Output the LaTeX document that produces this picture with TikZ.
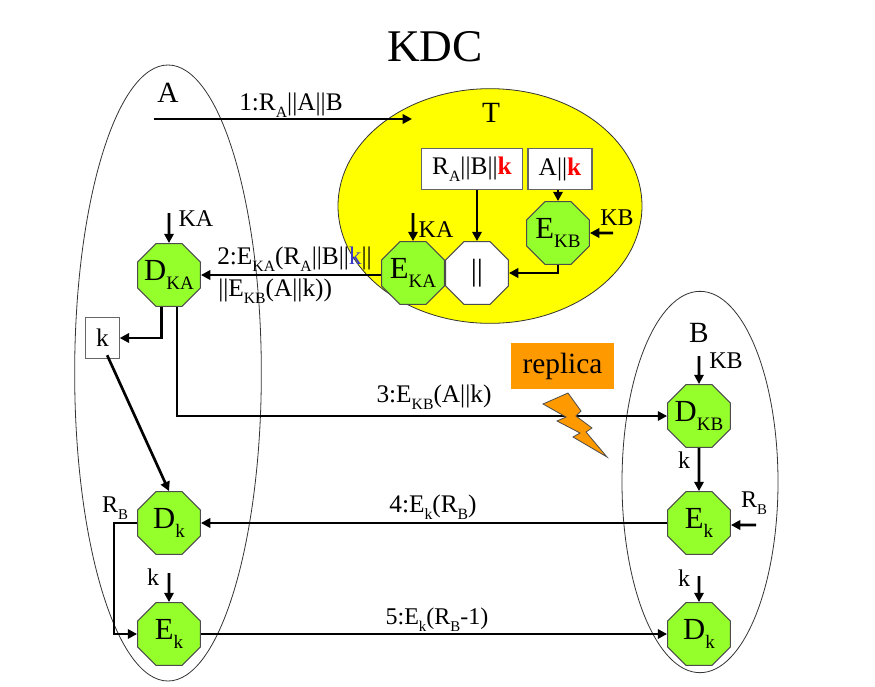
\documentclass[tikz,border=0pt]{standalone}
\usepackage{fontspec}
\setmainfont{Liberation Serif}
\definecolor{octgreen}{HTML}{95FF2B}
\definecolor{replorange}{HTML}{FF9900}
\definecolor{kblue}{HTML}{3A3AC8}
\definecolor{tyellow}{HTML}{FFFF00}
\definecolor{kred}{HTML}{FF0000}
\usetikzlibrary{arrows.meta, positioning, calc, shapes.geometric}
\newcommand{\low}[1]{\raisebox{-0.28em}{\scalebox{0.62}{#1}}}
\newcommand{\fsize}[1]{\fontsize{#1}{#1}\selectfont}
\tikzset{
  octa/.style={regular polygon, regular polygon sides=8, minimum size=51pt, inner sep=-8pt,
    draw=black!70, line width=0.75pt, fill=octgreen, font=\fsize{23}},
  party/.style={ellipse, draw=black!80, line width=0.6pt, inner sep=0pt},
  msgbox/.style={draw=black!60, line width=0.8pt, fill=white, inner sep=0pt, font=\fsize{19}},
  lbl/.style={font=\fsize{18}, inner sep=0pt},
  msg/.style={font=\fsize{19}, inner sep=0pt},
  bigl/.style={font=\fsize{22}, inner sep=0pt},
  flow/.style={-{Triangle[length=7pt,width=7pt]}, line width=2pt}
}

\begin{document}
\begin{tikzpicture}[x=0.75pt, y=-0.75pt]
  \useasboundingbox (0,0) rectangle (875,686);
  % parties
  \node[party, minimum width=140pt, minimum height=462pt] (partya) at (168,373) {};
  \node[party, minimum width=117pt, minimum height=286pt] (partyb) at (700,482) {};
  \node[party, fill=tyellow, minimum width=228pt, minimum height=176pt] (partyt) at (490,206) {};
  % titles
  \node[font=\fsize{34}, inner sep=0pt] (title) at (435,47) {KDC};
  \node[bigl] (namea) at (168,93) {A};
  \node[bigl] (namet) at (491,113) {T};
  \node[bigl] (nameb) at (699,333) {B};
  % inside T
  \node[msgbox, minimum width=76pt, minimum height=31pt] (boxra) at (472,169) {R\low{A}||B||\textcolor{kred}{\textbf{k}}};
  \node[msgbox, minimum width=48pt, minimum height=31pt] (boxak) at (560,169) {A||\textcolor{kred}{\textbf{k}}};
  \node[octa] (ekb) at (558,233) {E\low{KB}};
  \node[octa] (eka) at (413,273) {E\low{KA}};
  \node[octa, fill=white] (concat) at (477,273) {||};
  % inside A
  \node[octa] (dka) at (169,275) {D\low{KA}};
  \node[msgbox, minimum width=25pt, minimum height=31pt] (boxk) at (102.5,338) {k};
  \node[octa] (dka2) at (169,523) {D\low{k}};
  \node[octa] (eka2) at (169,634) {E\low{k}};
  % inside B
  \node[octa] (dkb) at (699,416) {D\low{KB}};
  \node[octa] (ekb2) at (699,523) {E\low{k}};
  \node[octa] (dkb2) at (699,634) {D\low{k}};
  % replica
  \node[fill=replorange, minimum width=77pt, minimum height=35pt, inner sep=0pt, font=\fsize{22}] (replica) at (562.5,366) {replica};
  % free ends
  \coordinate (astart) at (154,119);
  \coordinate (tend) at (412,119);
  \coordinate (keyka) at (413,213);
  \coordinate (keykb) at (613,233);
  \coordinate (keyda) at (169,213);
  \coordinate (keydb) at (699,356);
  \coordinate (rbin) at (756,525);
  \coordinate (kina) at (169,573);
  \coordinate (kinb) at (699,576);
  % messages
  \draw[flow] (astart) -- (tend);
  \draw[flow] (eka.west |- dka.east) -- (dka.east);
  \draw[flow] ([xshift=6pt]dka.south) |- (dkb.west);
  \draw[flow] (ekb2.west) -- (dka2.east);
  \draw[flow] (eka2.east) -- (dkb2.west);
  % inside T arrows
  \draw[flow] (boxra.south -| concat.north) -- (concat.north);
  \draw[flow] (boxak.south -| ekb.north) -- (ekb.north);
  \draw[flow] (keyka) -- (eka.north);
  \draw[flow] (keykb) -- (ekb.east);
  \draw[flow] (ekb.south) |- (concat.east);
  % inside A arrows
  \draw[flow] (keyda) -- (dka.north);
  \draw[flow] ([xshift=-5.5pt]dka.south) |- (boxk.east);
  \draw[flow] (boxk.south) ++(3.5pt,3pt) -- (dka2.north);
  \draw[flow] (kina) -- (eka2.north);
  \draw[flow] (dka2.west) -- ++(-23,0) |- (eka2.west);
  % inside B arrows
  \draw[flow] (keydb) -- (dkb.north);
  \draw[flow] (dkb.south) -- (ekb2.north);
  \draw[flow] (rbin) -- ($(ekb2.east)+(0,2)$);
  \draw[flow] (kinb) -- (dkb2.north);
  % lightning
  \draw[fill=replorange, draw=black!70, line width=0.6pt] (543,404) -- (568,393) -- (581,411) -- (576,416) -- (592,428) -- (586,432) -- (607,457) -- (573,437) -- (580,433) -- (557,421) -- (566,417) -- cycle;
  % labels
  \node[msg] (msgone) at (291,105) {1:R\low{A}||A||B};
  \node[msg, anchor=west] (msgtwoa) at (217,259) {2:E\low{KA}(R\low{A}||B||\textcolor{kblue}{k}||};
  \node[msg, anchor=west] (msgtwob) at (218,291) {||E\low{KB}(A||k))};
  \node[msg] (msgthree) at (434,397) {3:E\low{KB}(A||k)};
  \node[msg] (msgfour) at (433,507) {4:E\low{k}(R\low{B})};
  \node[lbl] (msgfive) at (437,620) {5:E\low{k}(R\low{B}-1)};
  \node[lbl] (lblkat) at (436,230) {KA};
  \node[lbl] (lblkbt) at (617,218) {KB};
  \node[lbl] (lblkaa) at (196,219) {KA};
  \node[lbl] (lblkbb) at (726,361) {KB};
  \node[lbl] (lblrba) at (115,508) {R\low{B}};
  \node[lbl] (lblrbb) at (754,503) {R\low{B}};
  \node[lbl] (lblka) at (153,577) {k};
  \node[lbl] (lblkb) at (684,460) {k};
  \node[lbl] (lblkc) at (684,578) {k};
\end{tikzpicture}
\end{document}
